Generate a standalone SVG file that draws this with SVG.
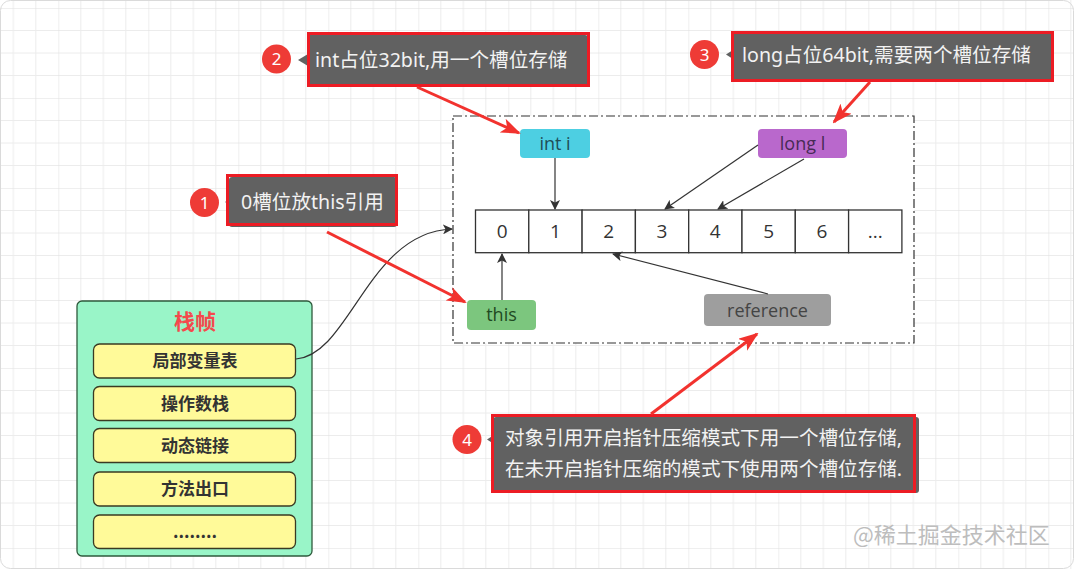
<svg xmlns="http://www.w3.org/2000/svg" width="1074" height="571" viewBox="0 0 1074 571">
<style>
.callout-box{fill:#616161}
.callout-red{fill:none;stroke:#EC1C24;stroke-width:3}
.callout-text{font-family:"Noto Sans","Noto Sans CJK SC",sans-serif;font-size:19.6px;fill:#F2F2F2}
.num{fill:#EE3B36}
.num-text{font-family:"Noto Sans",sans-serif;font-size:17px;fill:#fff;text-anchor:middle}
.ptr{fill:#616161}
.cell{fill:#fff;stroke:#333;stroke-width:1.3}
.cell-text{font-family:"Open Sans","Noto Sans",sans-serif;font-size:19px;fill:#333;text-anchor:middle}
.node-text{font-family:"Open Sans","Noto Sans",sans-serif;font-size:18px;text-anchor:middle}
.item{fill:#FFFA99;stroke:#3A3A22;stroke-width:1.3}
.item-text{font-family:"Noto Sans CJK SC",sans-serif;font-size:17px;font-weight:bold;fill:#333;text-anchor:middle}
.blk{fill:none;stroke:#333;stroke-width:1.2}
.red{fill:none;stroke:#F2322E;stroke-width:3}
</style>
<defs>
<pattern id="grid" patternUnits="userSpaceOnUse" x="-31.7" y="8" width="90" height="90">
<path d="M22.5 0V90M45 0V90M67.5 0V90M0 22.5H90M0 45H90M0 67.5H90" stroke="#ECECEC" stroke-width="1" fill="none"/>
<path d="M0 0V90M0 0H90" stroke="#E0E0E0" stroke-width="1" fill="none"/>
</pattern>
<marker id="ab" viewBox="0 0 10 10" refX="9" refY="5" markerWidth="10" markerHeight="10" markerUnits="userSpaceOnUse" orient="auto">
<path d="M0 0L10 5L0 10L2.5 5Z" fill="#333"/>
</marker>
<marker id="ar" viewBox="0 0 10 10" refX="9" refY="5" markerWidth="20" markerHeight="15" markerUnits="userSpaceOnUse" orient="auto" preserveAspectRatio="none">
<path d="M0 0L10 5L0 10L2.5 5Z" fill="#F2322E"/>
</marker>
</defs>
<rect x="0" y="0" width="1074" height="571" fill="#fff"/>
<rect x="0" y="0" width="1074" height="569" fill="url(#grid)"/>
<rect x="0.5" y="0.5" width="1073" height="568" rx="10" fill="none" stroke="#DADADA"/>

<g id="container">
<rect x="453" y="116" width="461" height="227" fill="#fff" stroke="#333" stroke-width="1.2" stroke-dasharray="9 3 2 3"/>
</g>

<g id="slots">
<rect class="cell" x="475.5" y="210" width="53.3" height="42.7"/>
<rect class="cell" x="528.8" y="210" width="53.3" height="42.7"/>
<rect class="cell" x="582.1" y="210" width="53.3" height="42.7"/>
<rect class="cell" x="635.4" y="210" width="53.3" height="42.7"/>
<rect class="cell" x="688.7" y="210" width="53.3" height="42.7"/>
<rect class="cell" x="742" y="210" width="53.3" height="42.7"/>
<rect class="cell" x="795.3" y="210" width="53.3" height="42.7"/>
<rect class="cell" x="848.6" y="210" width="53.3" height="42.7"/>
<text class="cell-text" x="502.2" y="238">0</text>
<text class="cell-text" x="555.5" y="238">1</text>
<text class="cell-text" x="608.8" y="238">2</text>
<text class="cell-text" x="662" y="238">3</text>
<text class="cell-text" x="715.3" y="238">4</text>
<text class="cell-text" x="768.6" y="238">5</text>
<text class="cell-text" x="822" y="238">6</text>
<text class="cell-text" x="875.3" y="238">...</text>
</g>

<g id="node-int">
<rect x="520" y="129" width="70" height="29" rx="4" fill="#4DCFE2"/>
<text class="node-text" x="555" y="150" fill="#1F4E57">int i</text>
</g>
<g id="node-long">
<rect x="758" y="129" width="89" height="29" rx="4" fill="#B968CC"/>
<text class="node-text" x="802.5" y="150" fill="#472A55">long l</text>
</g>
<g id="node-this">
<rect x="467" y="300" width="69" height="30" rx="4" fill="#7CC67E"/>
<text class="node-text" x="501.5" y="321" fill="#1F4A22">this</text>
</g>
<g id="node-reference">
<rect x="704" y="294" width="127" height="32" rx="4" fill="#9E9E9E"/>
<text class="node-text" x="767.5" y="317" fill="#444">reference</text>
</g>

<g id="stack-frame">
<rect x="77" y="301" width="235" height="255" rx="5" fill="#99F5C8" stroke="#2E5A3C" stroke-width="1.3"/>
<text x="195" y="329" font-family="Noto Sans CJK SC,sans-serif" font-size="21" font-weight="bold" fill="#F5484C" text-anchor="middle">栈帧</text>
<rect class="item" x="93.5" y="344" width="202" height="34" rx="6"/>
<text class="item-text" x="195" y="367">局部变量表</text>
<rect class="item" x="93.5" y="386.5" width="202" height="34" rx="6"/>
<text class="item-text" x="195" y="409.5">操作数栈</text>
<rect class="item" x="93.5" y="428.5" width="202" height="34" rx="6"/>
<text class="item-text" x="195" y="451.5">动态链接</text>
<rect class="item" x="93.5" y="472" width="202" height="34" rx="6"/>
<text class="item-text" x="195" y="495">方法出口</text>
<rect class="item" x="93.5" y="515" width="202" height="33.5" rx="6"/>
<text class="item-text" x="195" y="538">........</text>
</g>

<g id="callout-1">
<circle class="num" cx="204.5" cy="202.5" r="14.5"/>
<text class="num-text" x="204.5" y="208.5">1</text>
<path class="ptr" d="M225 202L233 197V207Z"/>
<rect class="callout-box" x="229" y="177" width="168" height="50" rx="3"/>
<rect class="callout-red" x="227.5" y="175.5" width="169" height="49"/>
<text class="callout-text" x="241" y="209">0槽位放this引用</text>
</g>
<g id="callout-2">
<circle class="num" cx="276.5" cy="59" r="14.5"/>
<text class="num-text" x="276.5" y="65">2</text>
<path class="ptr" d="M298 60L308 54V66Z"/>
<rect class="callout-box" x="307" y="35" width="281" height="50" rx="3"/>
<rect class="callout-red" x="308.5" y="33.5" width="280" height="52"/>
<text class="callout-text" x="315" y="66.5">int占位32bit,用一个槽位存储</text>
</g>
<g id="callout-3">
<circle class="num" cx="704.5" cy="54.5" r="14.5"/>
<text class="num-text" x="704.5" y="60.5">3</text>
<path class="ptr" d="M726 54.5L733 50V59Z"/>
<rect class="callout-box" x="732" y="33" width="320" height="47" rx="3"/>
<rect class="callout-red" x="732.5" y="32.5" width="320" height="48"/>
<text class="callout-text" x="742" y="61.5">long占位64bit,需要两个槽位存储</text>
</g>
<g id="callout-4">
<circle class="num" cx="467" cy="439.5" r="14.5"/>
<text class="num-text" x="467" y="445.5">4</text>
<path class="ptr" d="M487 439.5L494 435V444Z"/>
<rect class="callout-box" x="493" y="417" width="426" height="76" rx="3"/>
<rect class="callout-red" x="492.5" y="415.5" width="422" height="76"/>
<text class="callout-text" x="505" y="445">对象引用开启指针压缩模式下用一个槽位存储,</text>
<text class="callout-text" x="505" y="476">在未开启指针压缩的模式下使用两个槽位存储.</text>
</g>

<g id="connectors">
<line class="blk" x1="555" y1="158" x2="555" y2="209" marker-end="url(#ab)"/>
<line class="blk" x1="502" y1="300" x2="502" y2="254" marker-end="url(#ab)"/>
<line class="blk" x1="758" y1="145" x2="665" y2="209" marker-end="url(#ab)"/>
<line class="blk" x1="804" y1="159" x2="718" y2="209" marker-end="url(#ab)"/>
<line class="blk" x1="768" y1="294" x2="613" y2="254" marker-end="url(#ab)"/>
<path class="blk" d="M296 359C350 355 368 232 452 229" marker-end="url(#ab)"/>
<line class="red" x1="417" y1="87" x2="519" y2="133" marker-end="url(#ar)"/>
<line class="red" x1="870" y1="82" x2="834" y2="122" marker-end="url(#ar)"/>
<line class="red" x1="327" y1="232" x2="465" y2="302" marker-end="url(#ar)"/>
<line class="red" x1="651" y1="414" x2="757" y2="334" marker-end="url(#ar)"/>
</g>

<text x="853" y="543" font-family="Noto Sans CJK SC,sans-serif" font-size="22" fill="#BDBDBD">@稀土掘金技术社区</text>
</svg>
